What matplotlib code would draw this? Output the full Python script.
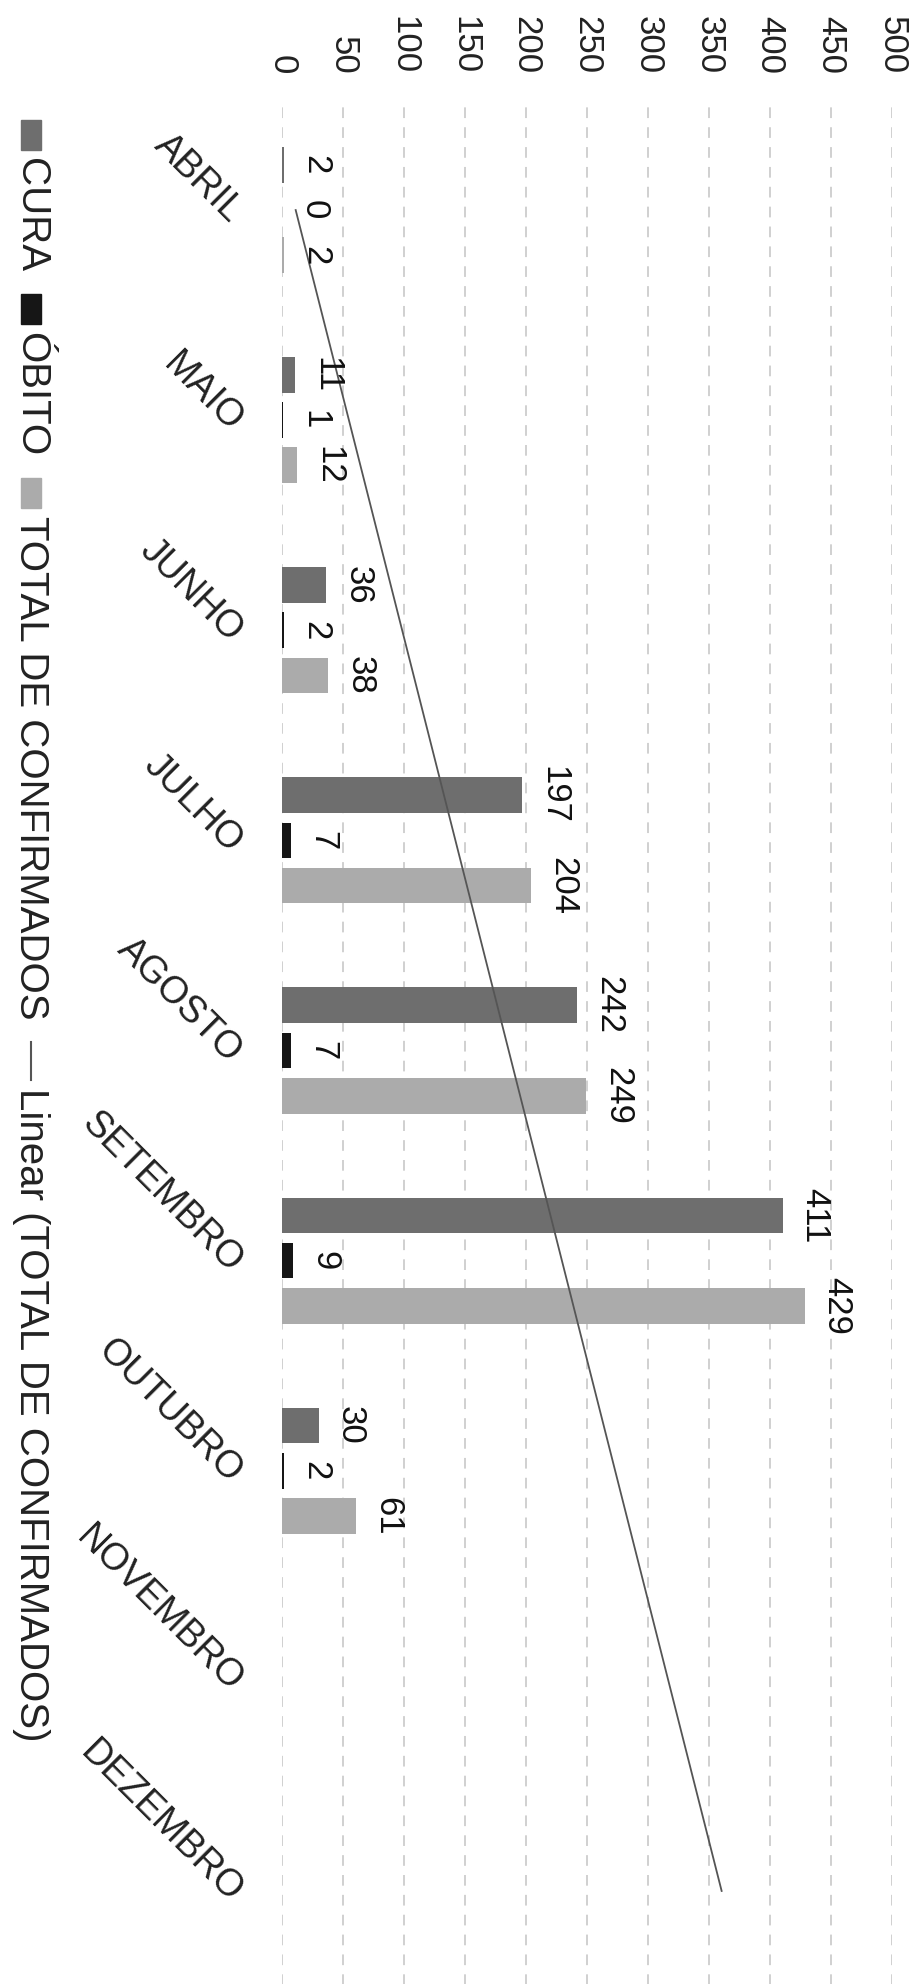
import numpy as np
import matplotlib

matplotlib.use("Agg")
import matplotlib.pyplot as plt
from matplotlib.patches import Rectangle
from matplotlib.lines import Line2D

months = ["ABRIL", "MAIO", "JUNHO", "JULHO", "AGOSTO", "SETEMBRO", "OUTUBRO", "NOVEMBRO", "DEZEMBRO"]
cura = [2, 11, 36, 197, 242, 411, 30]
obito = [0, 1, 2, 7, 7, 9, 2]
total = [2, 12, 38, 204, 249, 429, 61]
x_ticks = [0, 50, 100, 150, 200, 250, 300, 350, 400, 450, 500]

c_cura = "#6e6e6e"
c_obito = "#161616"
c_total = "#ababab"

plt.rcParams["font.family"] = ["Liberation Sans", "DejaVu Sans"]

W, H = 919, 1984
fig = plt.figure(figsize=(W / 100, H / 100), dpi=100)
# the chart is stored rotated by 90 degrees: values run left to right,
# months run top to bottom and every text reads downwards
ax = fig.add_axes([282 / W, -12 / H, 610 / W, 1891 / H])

n = len(cura)
pos = np.arange(n)
bw = 0.17
off = 0.215
ax.barh(pos - off, cura, height=bw, color=c_cura, zorder=2)
ax.barh(pos, obito, height=bw, color=c_obito, zorder=2)
ax.barh(pos + off, total, height=bw, color=c_total, zorder=2)

for series, dy in ((cura, -off), (obito, 0), (total, off)):
    for i, v in enumerate(series):
        ax.annotate(str(v), (v, i + dy), xytext=(11, 0), textcoords="offset points",
                    rotation=-90, ha="left", va="center", fontsize=25, color="#111111", zorder=4)

# linear trend of the confirmed totals, extended to december
coef = np.polyfit(np.arange(1, n + 1), total, 1)
trend_pos = np.arange(len(months))
ax.plot(coef[0] * (trend_pos + 1) + coef[1], trend_pos, color="#555555", lw=1.3, zorder=3)

ax.set_xlim(0, 500)
ax.set_ylim(len(months) - 0.5, -0.5)
ax.set_xticks(x_ticks)
ax.set_yticks([])
ax.xaxis.grid(True, linestyle=(0, (7, 6)), color="#c4c4c4", lw=1.1)
ax.set_axisbelow(True)
for s in ax.spines.values():
    s.set_visible(False)
ax.tick_params(axis="x", top=True, bottom=False, labeltop=True, labelbottom=False,
               length=0, pad=22, labelrotation=-90, labelsize=25, labelcolor="#222222")

for i, m in enumerate(months):
    ax.text(-0.075, i + 0.03, m, transform=ax.get_yaxis_transform(), rotation=-45,
            rotation_mode="anchor", ha="right", va="center", fontsize=27, color="#222222")

# legend, drawn by hand so it can read downwards like the rest
fig.canvas.draw()
renderer = fig.canvas.get_renderer()
legend_items = [("patch", c_cura, "CURA"), ("patch", c_obito, "ÓBITO"),
                ("patch", c_total, "TOTAL DE CONFIRMADOS"), ("line", "#555555", "Linear (TOTAL DE CONFIRMADOS)")]
y = 120
lx = 31
for kind, color, label in legend_items:
    if kind == "patch":
        fig.patches.append(Rectangle(((lx - 10) / W, 1 - (y + 30) / H), 20 / W, 30 / H,
                                     transform=fig.transFigure, color=color))
        y += 38
    else:
        fig.lines.append(Line2D([lx / W, lx / W], [1 - y / H, 1 - (y + 38) / H],
                                transform=fig.transFigure, color=color, lw=1.5))
        y += 46
    t = fig.text(lx / W, 1 - y / H, label, rotation=-90, ha="center", va="top",
                 fontsize=29, color="#222222")
    bb = t.get_window_extent(renderer)
    y += bb.height + 22

fig.savefig("out.png", dpi=100)
